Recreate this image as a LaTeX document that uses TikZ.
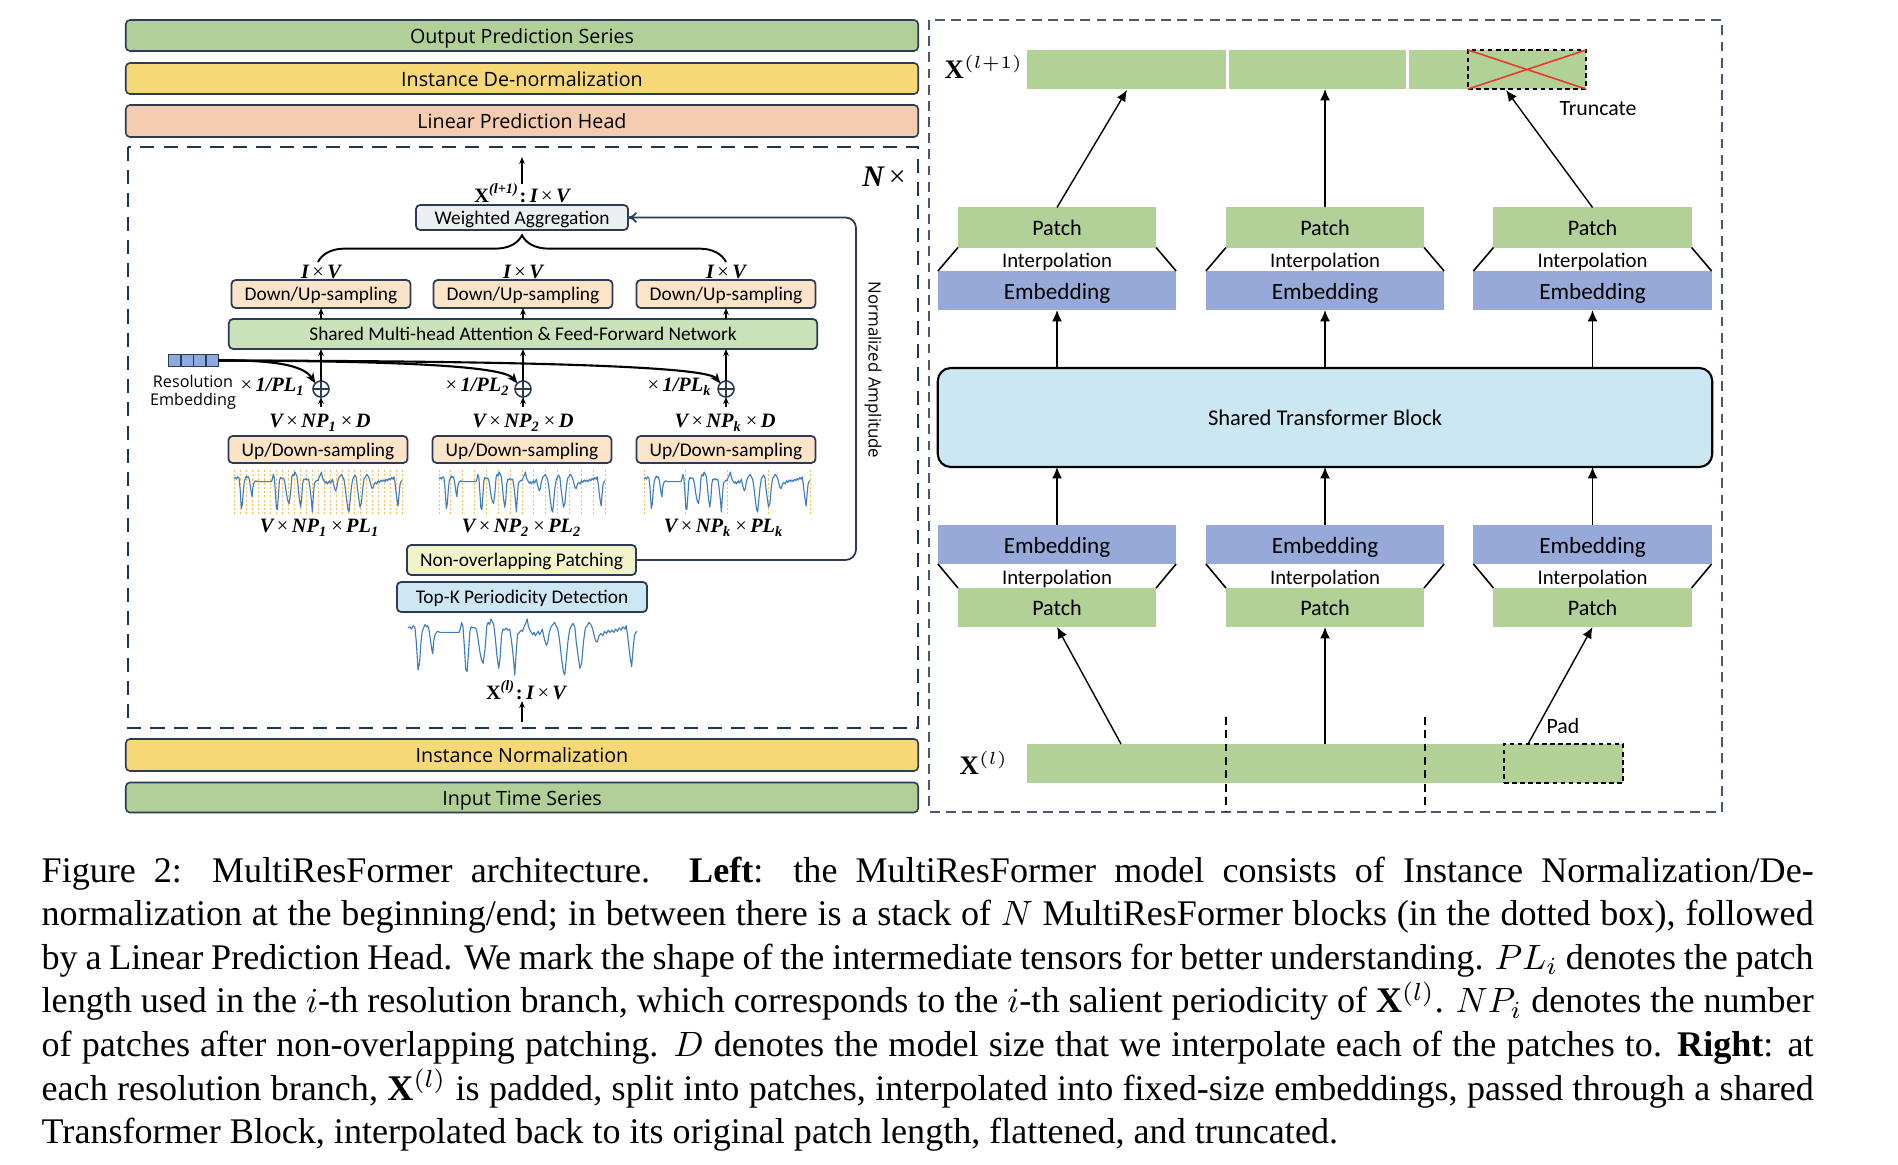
\documentclass[tikz,border=0pt]{standalone}
\usepackage{amsmath}
\usepackage{fontspec}
\setmainfont{Liberation Serif}
\newfontfamily\carl{Carlito}
\newfontfamily\osans{Open Sans}
\newfontfamily\mserif{Liberation Serif}
\usetikzlibrary{arrows.meta,decorations.pathreplacing,calc}
\definecolor{navy}{HTML}{2B3A55}
\definecolor{cgreen}{HTML}{B1D097}
\definecolor{cyellow}{HTML}{F7D877}
\definecolor{cpeach}{HTML}{F4CDB1}
\definecolor{mhafill}{HTML}{C9E2B9}
\definecolor{dufill}{HTML}{FBE4C8}
\definecolor{wafill}{HTML}{EDEEF0}
\definecolor{npfill}{HTML}{F2F3C8}
\definecolor{tkfill}{HTML}{CDE7F4}
\definecolor{reblue}{HTML}{8FA9DC}
\definecolor{rgreen}{HTML}{B2D197}
\definecolor{rblue}{HTML}{96A9D8}
\definecolor{stbfill}{HTML}{CCE7F4}
\definecolor{tsblue}{HTML}{3E7CC0}
\definecolor{tsorange}{HTML}{F5B546}
\definecolor{trred}{HTML}{E8392E}
\definecolor{rdash}{HTML}{4A5872}
\definecolor{ldash}{HTML}{1F3558}
\tikzset{
  bar/.style={draw=navy, line width=0.45pt, rounded corners=1.2pt, minimum width=7.92cm,
    inner sep=0pt, outer sep=0pt, text height=4.5pt, text depth=0pt, font=\osans\fontsize{5.6}{6.5}\selectfont},
  lbox/.style={draw=navy, line width=0.5pt, rounded corners=1.2pt, inner sep=0pt, outer sep=0pt,
    text height=3.95pt, text depth=0pt, font=\carl\fontsize{5.5}{6.5}\selectfont},
  mlab/.style={inner sep=0pt, font=\mserif\bfseries\itshape\fontsize{5.8}{7}\selectfont},
  tarr/.style={-{Stealth[length=2pt,width=1.6pt]}, line width=0.35pt},
  embarr/.style={line width=0.6pt, -{Stealth[length=3pt,width=2.4pt]}},
  plusnode/.style={circle, draw=navy, fill=white, line width=0.45pt, minimum size=0.16cm, inner sep=0pt, outer sep=0pt,
    path picture={\draw[line width=0.55pt] (path picture bounding box.north) -- (path picture bounding box.south)
      (path picture bounding box.west) -- (path picture bounding box.east);}},
  rbox/.style={inner sep=0pt, outer sep=0pt, text height=4.7pt, text depth=0pt, font=\carl\fontsize{6.3}{7.5}\selectfont},
  embox/.style={rbox, fill=rblue, minimum width=2.38cm, minimum height=0.39cm, text height=4.85pt, font=\carl\fontsize{6.6}{7.5}\selectfont},
  rlab/.style={inner sep=0pt, text height=4.4pt, text depth=0pt, font=\carl\fontsize{5.9}{7}\selectfont},
  rarr/.style={-{Latex[length=3.2pt,width=2.8pt]}, line width=0.4pt},
  rline/.style={line width=0.45pt},
  tsline/.style={tsblue, line width=0.32pt, line join=round},
  tsgrid/.style={tsorange, line width=0.28pt, dash pattern=on 0.6pt off 0.6pt, opacity=0.85},
  capline/.style={anchor=base west, inner sep=0pt, font=\fontsize{10.26}{12.4}\selectfont},
}
\newcommand\tsdraw{\draw[tsline] plot coordinates {(0,0.84) (0.008,0.86) (0.015,0.82) (0.022,0.88) (0.03,0.85) (0.036,0.6) (0.044,0.09) (0.05,0.2) (0.056,0.55) (0.062,0.78) (0.068,0.84) (0.074,0.9) (0.08,0.86) (0.086,0.88) (0.092,0.8) (0.098,0.62) (0.104,0.45) (0.108,0.38) (0.112,0.6) (0.118,0.72) (0.124,0.76) (0.13,0.78) (0.14,0.76) (0.223,0.76) (0.228,0.82) (0.234,0.94) (0.24,0.86) (0.246,0.5) (0.252,0.1) (0.258,0.06) (0.264,0.4) (0.27,0.78) (0.276,0.86) (0.282,0.84) (0.29,0.85) (0.298,0.82) (0.304,0.7) (0.312,0.45) (0.32,0.28) (0.328,0.21) (0.336,0.45) (0.344,0.88) (0.35,0.94) (0.356,0.9) (0.362,1.0) (0.368,0.95) (0.374,0.9) (0.38,0.7) (0.388,0.35) (0.396,0.12) (0.402,0.3) (0.408,0.7) (0.414,0.82) (0.42,0.8) (0.428,0.84) (0.436,0.8) (0.444,0.82) (0.452,0.6) (0.46,0.3) (0.466,0.0) (0.472,0.4) (0.478,0.72) (0.486,0.76) (0.494,0.8) (0.5,0.78) (0.508,0.88) (0.514,0.92) (0.52,1.0) (0.526,0.86) (0.532,0.8) (0.538,0.76) (0.544,0.72) (0.55,0.76) (0.556,0.7) (0.562,0.74) (0.568,0.78) (0.574,0.72) (0.58,0.76) (0.586,0.82) (0.592,0.7) (0.598,0.6) (0.604,0.53) (0.61,0.58) (0.616,0.75) (0.624,0.86) (0.632,0.9) (0.64,0.94) (0.646,0.88) (0.654,0.82) (0.662,0.6) (0.67,0.3) (0.678,0.06) (0.684,0.0) (0.69,0.25) (0.698,0.6) (0.706,0.82) (0.714,0.88) (0.72,0.92) (0.728,0.86) (0.734,0.6) (0.742,0.35) (0.75,0.12) (0.758,0.22) (0.766,0.6) (0.774,0.84) (0.782,0.88) (0.79,0.94) (0.798,0.9) (0.806,0.82) (0.814,0.68) (0.82,0.6) (0.826,0.59) (0.834,0.7) (0.842,0.74) (0.85,0.7) (0.858,0.78) (0.866,0.74) (0.874,0.8) (0.882,0.76) (0.89,0.8) (0.898,0.76) (0.906,0.82) (0.914,0.78) (0.922,0.84) (0.93,0.8) (0.938,0.86) (0.946,0.82) (0.952,0.88) (0.958,0.72) (0.964,0.5) (0.97,0.3) (0.976,0.15) (0.982,0.45) (0.988,0.7) (0.994,0.76) (1.0,0.78)};}
\newcommand\tm{\,{\mdseries\upshape ×}\,}
\begin{document}
\begin{tikzpicture}[x=0.01cm, y=-0.01cm]
\fill[white] (0,0) rectangle (1898,1164);
\useasboundingbox (0,0) rectangle (1898,1164);

% ================= LEFT PANEL =================
\node[bar, fill=cgreen, minimum height=0.31cm] (outp) at (522,35.5) {Output Prediction Series};
\node[bar, fill=cyellow, minimum height=0.31cm] (denorm) at (522,78.5) {Instance De-normalization};
\node[bar, fill=cpeach, minimum height=0.32cm] (head) at (522,121) {Linear Prediction Head};
\node[bar, fill=cyellow, minimum height=0.32cm] (norm) at (522,755) {Instance Normalization};
\node[bar, fill=cgreen, minimum height=0.30cm] (inp) at (522,797.5) {Input Time Series};

\draw[ldash, line width=0.75pt, dash pattern=on 4pt off 2.6pt] (128,147) rectangle (918,728);
\node[inner sep=0pt, font=\mserif\fontsize{8.5}{9}\selectfont] (nx) at (884,177) {{\bfseries\itshape N}\,×};

\node[mlab] (xl1) at (522,193) {{\upshape X}\textsuperscript{(\textit{l}+1)}{\upshape :}\,I\tm V};
\coordinate (topout) at (522,157);
\draw[tarr] (522,184) coordinate (xl1top) -- (topout);

\node[lbox, fill=wafill, minimum width=2.12cm, minimum height=0.25cm] (wa) at (522,217.5) {Weighted Aggregation};
\draw[line width=0.55pt, decorate, decoration={brace, amplitude=7.6pt}] (318,262) -- (726,262);

\foreach \n/\x in {1/321,2/523,3/726}{
  \node[mlab] (iv\n) at (\x,271.5) {I\tm V};
  \node[lbox, fill=dufill, minimum width=1.79cm, minimum height=0.28cm] (d\n) at (\x,294) {Down/Up-sampling};
}
\node[lbox, fill=mhafill, minimum width=5.88cm, minimum height=0.30cm] (mha) at (523,334) {Shared Multi-head Attention \& Feed-Forward Network};
\foreach \n in {1,2,3}{ \draw[tarr] (mha.north -| d\n) -- (d\n.south); }

\node[draw=navy, fill=reblue, line width=0.4pt, minimum width=0.5cm, minimum height=0.115cm, inner sep=0pt, outer sep=0pt] (re) at (193.5,360.5) {};
\foreach \k in {1,2,3}{ \draw[navy, line width=0.4pt] ($(re.north west)!\k/4!(re.north east)$) -- ($(re.south west)!\k/4!(re.south east)$); }
\node[inner sep=0pt, font=\osans\fontsize{4.6}{5.5}\selectfont] (rel1) at (193,381) {Resolution};
\node[inner sep=0pt, font=\osans\fontsize{4.6}{5.5}\selectfont] (rel2) at (193,401) {Embedding};

\node[plusnode] (p1) at (321,389) {};
\node[plusnode] (p2) at (523,389) {};
\node[plusnode] (p3) at (726,389) {};
\foreach \n in {1,2,3}{ \draw[tarr, line width=0.5pt] (p\n.north) -- (p\n.north |- mha.south); }
\draw[embarr] (re.east) .. controls (268,360) and (303,364) .. (p1.north west);
\draw[embarr] (re.east) .. controls (400,361) and (503,366) .. (p2.north west);
\draw[embarr] (re.east) .. controls (520,361) and (706,366) .. (p3.north west);

\node[mlab] (s1) at (273,387) {{\mdseries\upshape ×}\,1/PL\textsubscript{1}};
\node[mlab] (s2) at (478,387) {{\mdseries\upshape ×}\,1/PL\textsubscript{2}};
\node[mlab] (s3) at (680,387) {{\mdseries\upshape ×}\,1/PL\textsubscript{k}};

\node[mlab] (nd1) at (320,423) {V\tm NP\textsubscript{1}\tm D};
\node[mlab] (nd2) at (523,423) {V\tm NP\textsubscript{2}\tm D};
\node[mlab] (nd3) at (725,423) {V\tm NP\textsubscript{k}\tm D};
\foreach \n/\x in {1/321,2/523,3/726}{
  \coordinate (a\n) at (\x,407);
  \draw[tarr] (a\n) -- (p\n.south);
}

\node[lbox, fill=dufill, minimum width=1.79cm, minimum height=0.27cm] (u1) at (318,449.5) {Up/Down-sampling};
\node[lbox, fill=dufill, minimum width=1.79cm, minimum height=0.27cm] (u2) at (522,449.5) {Up/Down-sampling};
\node[lbox, fill=dufill, minimum width=1.79cm, minimum height=0.27cm] (u3) at (726,449.5) {Up/Down-sampling};

% small plots with patch grid
\foreach \i in {0,...,28}{ \draw[tsgrid] (234+\i*6,470) -- (234+\i*6,515); }
\foreach \i in {0,...,14}{ \draw[tsgrid] (439+\i*11.857,470) -- (439+\i*11.857,515); }
\foreach \i in {0,...,4}{ \draw[tsgrid] (644+\i*41.5,470) -- (644+\i*41.5,515); }
\begin{scope}[shift={(234,512)}, x=1.68cm, y=0.40cm] \tsdraw \end{scope}
\begin{scope}[shift={(439,512)}, x=1.66cm, y=0.40cm] \tsdraw \end{scope}
\begin{scope}[shift={(644,512)}, x=1.66cm, y=0.40cm] \tsdraw \end{scope}

\node[mlab] (pl1) at (320,528) {V\tm NP\textsubscript{1}\tm PL\textsubscript{1}};
\node[mlab] (pl2) at (522,528) {V\tm NP\textsubscript{2}\tm PL\textsubscript{2}};
\node[mlab] (pl3) at (724,528) {V\tm NP\textsubscript{k}\tm PL\textsubscript{k}};

\node[lbox, fill=npfill, minimum width=2.29cm, minimum height=0.30cm] (np) at (521.5,560) {Non-overlapping Patching};
\node[lbox, fill=tkfill, minimum width=2.50cm, minimum height=0.30cm] (tk) at (522,597) {Top-K Periodicity Detection};
\begin{scope}[shift={(408,675)}, x=2.29cm, y=0.56cm] \tsdraw \end{scope}
\node[mlab] (xl) at (526,690) {{\upshape X}\textsuperscript{(\textit{l})}{\upshape :}\,I\tm V};
\coordinate (botin) at (522,722);
\draw[tarr] (botin) -- (522,701) coordinate (xlbot);

% feedback line
\coordinate (fbc) at (856,400);
\draw[navy, line width=0.5pt, rounded corners=3pt, -{To[length=2.5pt,width=3pt]}] (np.east) -| (fbc) |- (wa.east);
\node[rotate=-90, inner sep=0pt, font=\osans\fontsize{4.8}{5.5}\selectfont] (na) at (873,370) {Normalized Amplitude};

% ================= RIGHT PANEL =================
\draw[rdash, line width=0.4pt, dash pattern=on 2.8pt off 1.8pt] (929,20) rectangle (1722,812);

\node[inner sep=0pt, font=\fontsize{7.6}{9}\selectfont] (xtop) at (984,67) {$\mathbf{X}^{(l+1)}$};
\node[rbox, fill=rgreen, minimum width=1.99cm, minimum height=0.39cm] (sg1) at (1126.5,69.5) {};
\node[rbox, fill=rgreen, minimum width=1.77cm, minimum height=0.39cm] (sg2) at (1317.5,69.5) {};
\node[rbox, fill=rgreen, minimum width=1.77cm, minimum height=0.39cm] (sg3) at (1497.5,69.5) {};
\node[rbox, draw=black, line width=0.45pt, dash pattern=on 1.3pt off 1pt, minimum width=1.18cm, minimum height=0.39cm] (tr) at (1527,69.5) {};
\draw[trred, line width=0.45pt] (tr.north west) -- (tr.south east) (tr.south west) -- (tr.north east);
\node[rlab, font=\carl\fontsize{6.2}{7}\selectfont] (trl) at (1598,108) {Truncate};

\foreach \n/\x in {1/1057,2/1325,3/1592.5}{
  \node[rbox, fill=rgreen, minimum width=1.98cm, minimum height=0.40cm] (pt\n) at (\x,227.5) {Patch};
  \node[embox] (et\n) at (\x,290.5) {Embedding};
  \node[rlab] (it\n) at (\x,259.5) {Interpolation};
  \draw[rline] (pt\n.south west) -- (et\n.north west);
  \draw[rline] (pt\n.south east) -- (et\n.north east);
  \node[embox] (eb\n) at (\x,544.5) {Embedding};
  \node[rbox, fill=rgreen, minimum width=1.98cm, minimum height=0.39cm] (pb\n) at (\x,607.5) {Patch};
  \node[rlab] (ib\n) at (\x,577) {Interpolation};
  \draw[rline] (eb\n.south west) -- (pb\n.north west);
  \draw[rline] (eb\n.south east) -- (pb\n.north east);
}
\node[rbox, fill=stbfill, draw=black, line width=0.6pt, rounded corners=3.7pt, minimum width=7.74cm, minimum height=0.99cm, font=\carl\fontsize{6.4}{7.5}\selectfont] (stb) at (1325,417.5) {Shared Transformer Block};
\foreach \n in {1,2,3}{
  \draw[rarr] (eb\n.north) -- (eb\n.north |- stb.south);
  \draw[rarr] (stb.north -| et\n) -- (et\n.south);
}
\coordinate (t1) at (1127,90);
\coordinate (t3) at (1506,90);
\draw[rarr] (pt1.north) -- (t1);
\draw[rarr] (pt2.north) -- (pt2.north |- sg2.south);
\draw[rarr] (pt3.north) -- (t3);

\node[rbox, fill=rgreen, minimum width=5.96cm, minimum height=0.39cm] (bb) at (1325,763.5) {};
\node[rbox, draw=black, line width=0.45pt, dash pattern=on 1.3pt off 1pt, minimum width=1.19cm, minimum height=0.39cm] (pad) at (1563.5,763.5) {};
\draw[black, line width=0.45pt, dash pattern=on 2.2pt off 1.6pt] (1226,717) -- (1226,812);
\draw[black, line width=0.45pt, dash pattern=on 2.2pt off 1.6pt] (1425,717) -- (1425,812);
\node[inner sep=0pt, font=\fontsize{7.6}{9}\selectfont] (xbot) at (984,763) {$\mathbf{X}^{(l)}$};
\node[rlab, font=\carl\fontsize{6.2}{7}\selectfont] (padl) at (1563,726) {Pad};
\coordinate (b1) at (1121,744);
\coordinate (b3) at (1528,744);
\draw[rarr] (b1) -- (pb1.south);
\draw[rarr] (bb.north -| pb2) -- (pb2.south);
\draw[rarr] (b3) -- (pb3.south);

% ================= CAPTION =================
\node[capline] (c1) at (41,882) {\makebox[17.71cm][s]{Figure 2: MultiResFormer architecture. \textbf{Left}: the MultiResFormer model consists of Instance Normalization/De-}};
\node[capline] (c2) at (41,925.6) {\makebox[17.71cm][s]{normalization at the beginning/end; in between there is a stack of $N$ MultiResFormer blocks (in the dotted box), followed}};
\node[capline] (c3) at (41,969.2) {\makebox[17.71cm][s]{by a Linear Prediction Head. We mark the shape of the intermediate tensors for better understanding. $PL_i$ denotes the patch}};
\node[capline] (c4) at (41,1012.8) {\makebox[17.71cm][s]{length used in the $i$-th resolution branch, which corresponds to the $i$-th salient periodicity of $\mathbf{X}^{(l)}$. $NP_i$ denotes the number}};
\node[capline] (c5) at (41,1056.4) {\makebox[17.71cm][s]{of patches after non-overlapping patching. $D$ denotes the model size that we interpolate each of the patches to. \textbf{Right}: at}};
\node[capline] (c6) at (41,1100) {\makebox[17.71cm][s]{each resolution branch, $\mathbf{X}^{(l)}$ is padded, split into patches, interpolated into fixed-size embeddings, passed through a shared}};
\node[capline] (c7) at (41,1143.6) {Transformer Block, interpolated back to its original patch length, flattened, and truncated.};
\end{tikzpicture}
\end{document}
